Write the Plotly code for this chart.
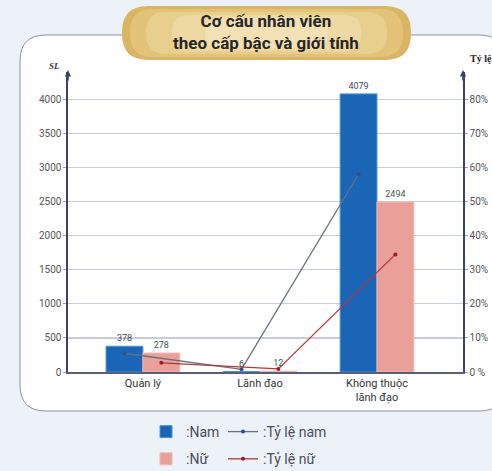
import plotly.graph_objects as go

# ---------------- data ----------------
categories = ["Quản lý", "Lãnh đạo", "Không thuộc<br>lãnh đạo"]
nam_sl = [378, 6, 4079]
nu_sl = [278, 12, 2494]
ty_le_nam = [5.5, 0.8, 58.0]   # %
ty_le_nu = [2.7, 0.9, 34.5]    # %
left_ticks = [0, 500, 1000, 1500, 2000, 2500, 3000, 3500, 4000]
right_ticks = [0, 10, 20, 30, 40, 50, 60, 70, 80]

# ---------------- geometry helpers (pixel -> paper) ----------------
W, H = 492, 471
L, R, T, B = 68, 29, 72, 99
PW, PH = W - L - R, H - T - B
BG = "#edf1f8"


def px(x):
    return (x - L) / PW


def py(y):
    return (H - B - y) / PH


def rounded_path(x0, y0, x1, y1, r):
    pts = [
        f"M {px(x0 + r)} {py(y0)}",
        f"L {px(x1 - r)} {py(y0)}",
        f"Q {px(x1)} {py(y0)} {px(x1)} {py(y0 + r)}",
        f"L {px(x1)} {py(y1 - r)}",
        f"Q {px(x1)} {py(y1)} {px(x1 - r)} {py(y1)}",
        f"L {px(x0 + r)} {py(y1)}",
        f"Q {px(x0)} {py(y1)} {px(x0)} {py(y1 - r)}",
        f"L {px(x0)} {py(y0 + r)}",
        f"Q {px(x0)} {py(y0)} {px(x0 + r)} {py(y0)}",
        "Z",
    ]
    return " ".join(pts)


idx = list(range(len(categories)))
bw = 0.315

fig = go.Figure()

fig.add_trace(go.Bar(
    x=idx, y=nam_sl, name=":Nam", width=bw, offset=-bw,
    marker=dict(color="#1b65b7", line=dict(color="#4f93d8", width=1)),
    text=nam_sl, textposition="outside", cliponaxis=False,
    textfont=dict(size=9, color="#3a4658", family="Roboto"),
    legend="legend", legendgroup="a",
))
fig.add_trace(go.Bar(
    x=idx, y=nu_sl, name=":Nữ", width=bw, offset=0,
    marker=dict(color="#eb9f99", line=dict(color="#f2b8b2", width=1)),
    text=nu_sl, textposition="outside", cliponaxis=False,
    textfont=dict(size=9, color="#3f5a48", family="Roboto"),
    legend="legend", legendgroup="b",
))
fig.add_trace(go.Scatter(
    x=[i - bw / 2 for i in idx], y=ty_le_nam, name=":Tỷ lệ nam", yaxis="y2",
    mode="lines+markers",
    line=dict(color="#66707f", width=1.3),
    marker=dict(color="#2c4f86", size=4),
    legend="legend2", legendgroup="c",
))
fig.add_trace(go.Scatter(
    x=[i + bw / 2 for i in idx], y=ty_le_nu, name=":Tỷ lệ nữ", yaxis="y2",
    mode="lines+markers",
    line=dict(color="#b8343a", width=1.3),
    marker=dict(color="#9c1c24", size=4),
    legend="legend2", legendgroup="d",
))

shapes = [
    dict(type="path", xref="paper", yref="paper", layer="below",
         path=rounded_path(20, 35, 505, 411, 26),
         fillcolor="white", line=dict(color="#8e929c", width=1)),
    dict(type="path", xref="paper", yref="paper", layer="below",
         path=rounded_path(122, 6, 411, 60, 26),
         fillcolor="#dab566", line=dict(width=0)),
    dict(type="path", xref="paper", yref="paper", layer="below",
         path=rounded_path(130, 9, 403, 57, 23),
         fillcolor="#e2c379", line=dict(width=0)),
    dict(type="path", xref="paper", yref="paper", layer="below",
         path=rounded_path(146, 12, 387, 54, 20),
         fillcolor="#e9cf8d", line=dict(width=0)),
    dict(type="path", xref="paper", yref="paper", layer="below",
         path=rounded_path(172, 15, 361, 51, 17),
         fillcolor="#eed9a2", line=dict(width=0)),
    dict(type="path", xref="paper", yref="paper", layer="below",
         path=rounded_path(205, 18, 328, 48, 14),
         fillcolor="#f2e1b5", line=dict(width=0)),
]

annotations = [
    dict(text="<b>Cơ cấu nhân viên<br>theo cấp bậc và giới tính</b>",
         xref="paper", yref="paper", x=px(266), y=py(32),
         xanchor="center", yanchor="middle", showarrow=False,
         font=dict(size=17, color="#262626", family="Roboto")),
    dict(text="<b><i>SL</i></b>", xref="paper", yref="paper",
         x=px(62), y=py(66), xanchor="right", yanchor="middle",
         showarrow=False, font=dict(size=9, color="#333", family="Liberation Serif")),
    dict(text="<b>Tỷ lệ</b>", xref="paper", yref="paper",
         x=px(468), y=py(58), xanchor="left", yanchor="middle",
         showarrow=False, font=dict(size=10, color="#222", family="Liberation Serif")),
    dict(text="", xref="paper", yref="paper", x=0, y=py(70), ax=0, ay=12,
         showarrow=True, arrowhead=2, arrowsize=0.8, arrowwidth=1.6,
         arrowcolor="#3d4170"),
    dict(text="", xref="paper", yref="paper", x=1, y=py(70), ax=0, ay=12,
         showarrow=True, arrowhead=2, arrowsize=0.8, arrowwidth=1.6,
         arrowcolor="#3d4170"),
]

fig.update_layout(
    width=W, height=H,
    margin=dict(l=L, r=R, t=T, b=B, pad=0, autoexpand=False),
    paper_bgcolor=BG,
    plot_bgcolor="rgba(0,0,0,0)",
    font=dict(family="Roboto", color="#444"),
    bargap=0, barmode="overlay",
    shapes=shapes,
    annotations=annotations,
    xaxis=dict(
        range=[-0.64, 2.735], tickvals=idx, ticktext=categories,
        showgrid=False, zeroline=False, showline=True, automargin=False,
        linecolor="#5a5f78", linewidth=1.5, ticks="",
        tickfont=dict(size=11, color="#333"),
    ),
    yaxis=dict(
        range=[0, 4400], tickvals=left_ticks, automargin=False,
        showgrid=True, gridcolor="#c9ccd6", gridwidth=1.2,
        zeroline=False, showline=True, linecolor="#3d4170", linewidth=1.6,
        ticks="outside", ticklen=3, tickcolor="#9da1ad",
        tickfont=dict(size=10, color="#555"),
    ),
    yaxis2=dict(
        range=[0, 88], tickvals=right_ticks, automargin=False,
        ticktext=[f"{v}%" if v else "0 %" for v in right_ticks],
        overlaying="y", side="right", showgrid=False, zeroline=False,
        showline=True, linecolor="#3d4170", linewidth=1.6,
        ticks="outside", ticklen=3, tickcolor="#9da1ad",
        tickfont=dict(size=10, color="#555"),
    ),
    legend=dict(
        x=px(146), y=py(416), xanchor="left", yanchor="top",
        orientation="v", tracegroupgap=6, bgcolor="rgba(0,0,0,0)",
        font=dict(size=14, color="#4a4f5a", family="Roboto"),
        itemwidth=30,
    ),
    legend2=dict(
        x=px(223), y=py(416), xanchor="left", yanchor="top",
        orientation="v", tracegroupgap=6, bgcolor="rgba(0,0,0,0)",
        font=dict(size=14, color="#4a4f5a", family="Roboto"),
        itemwidth=30,
    ),
)

post = (
    "document.body.style.margin='0px';"
    "document.body.style.padding='0px';"
    "document.body.style.overflow='hidden';"
    f"document.body.style.background='{BG}';"
)

fig.write_html("out.html", post_script=post,
               config={"displayModeBar": False, "staticPlot": True})
